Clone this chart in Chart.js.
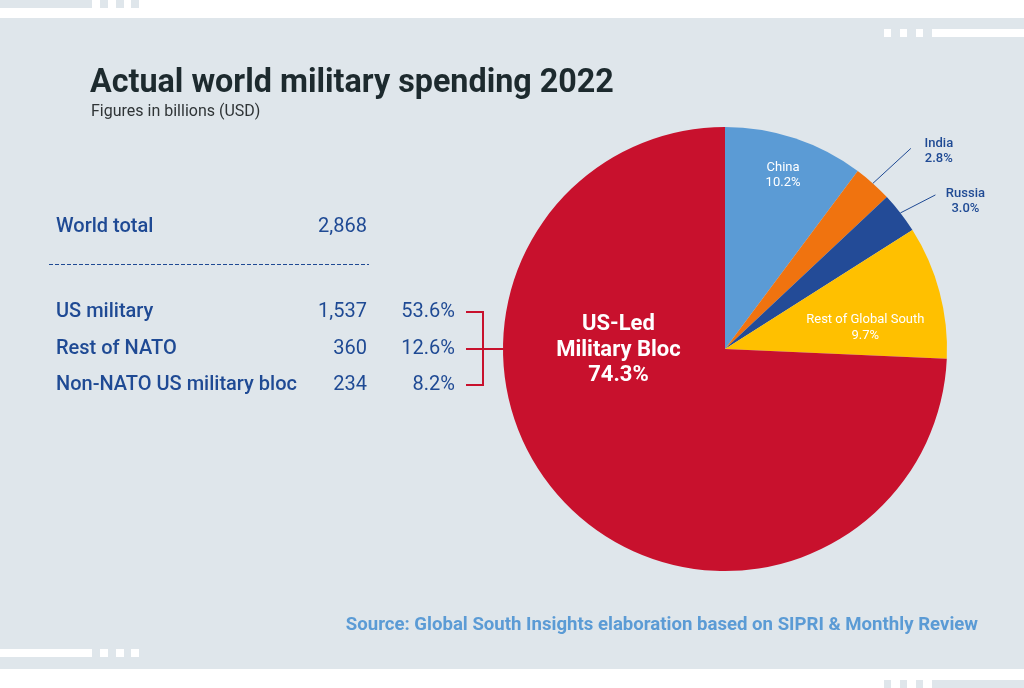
<!DOCTYPE html>
<html>
<head>
<meta charset="utf-8">
<script src="https://cdn.jsdelivr.net/npm/chart.js@4"></script>
<style>
  html, body { margin: 0; padding: 0; background: #fff; }
  #wrap { width: 1024px; height: 688px; }
</style>
</head>
<body>
<div id="wrap"><canvas id="chart" width="1024" height="688"></canvas></div>
<script>
// pie slices, clockwise from 12 o'clock
const sliceLabels = ['China', 'India', 'Russia', 'Rest of Global South', 'US-Led Military Bloc'];
const sliceShares = [10.2, 2.8, 3.0, 9.7, 74.3];

// left-hand table
const worldLabel = 'World total';
const worldTotal = 2868;
const rowLabels  = ['US military', 'Rest of NATO', 'Non-NATO US military bloc'];
const rowValues  = [1537, 360, 234];
const rowShares  = [53.6, 12.6, 8.2];

const TITLE    = 'Actual world military spending 2022';
const SUBTITLE = 'Figures in billions (USD)';
const SOURCE   = 'Source: Global South Insights elaboration based on SIPRI & Monthly Review';

const COLORS = {
    panel:   '#dfe6eb',
    title:   '#1d2a2e',
    sub:     '#2f3436',
    navy:    '#1f4a94',
    source:  '#5b9bd5',
    red:     '#c8112d',
    slices:  ['#5b9bd5', '#f0730f', '#234b97', '#ffc000', '#c8112d'],
};

const FONT = 'Roboto, "Open Sans", sans-serif';

// label placement per slice: angle (deg from top, null = slice middle), radius fraction
const LABEL_POS = [
    { ang: null, r: 0.83, color: '#fff', size: 13, weight: 400, lines: ['China'] },
    { ang: null, r: 1.0,  color: COLORS.navy, size: 13, weight: 500, lines: ['India'],
      lead: [38, -35], text: [66, -32] },
    { ang: null, r: 1.0,  color: COLORS.navy, size: 13, weight: 500, lines: ['Russia'],
      lead: [35, -18], text: [65, -12] },
    { ang: 81,   r: 0.64, color: '#fff', size: 13, weight: 400, lines: ['Rest of Global South'] },
    { ang: 270,  r: 0.48, color: '#fff', size: 22, weight: 700, lines: ['US-Led', 'Military Bloc'] },
];

const fmt = n => n.toLocaleString('en-US');
const pct = n => n.toFixed(1) + '%';

const background = {
    id: 'background',
    beforeDraw(chart) {
        const { ctx } = chart;
        ctx.save();
        ctx.fillStyle = '#fff';
        ctx.fillRect(0, 0, 1024, 688);
        ctx.fillStyle = COLORS.panel;
        ctx.fillRect(0, 18, 1024, 651);
        // corner marks
        const marks = (y, h, color, leftSide) => {
            ctx.fillStyle = color;
            if (leftSide) {
                ctx.fillRect(0, y, 92, h);
                [100, 116, 131].forEach(x => ctx.fillRect(x, y, 8, h));
            } else {
                [884, 900, 916].forEach(x => ctx.fillRect(x, y, 7, h));
                ctx.fillRect(932, y, 92, h);
            }
        };
        marks(0, 8, COLORS.panel, true);
        marks(29, 8, '#fff', false);
        marks(649, 8, '#fff', true);
        marks(680, 8, COLORS.panel, false);
        ctx.restore();
    },
};

const annotations = {
    id: 'annotations',
    afterDraw(chart) {
        const { ctx } = chart;
        ctx.save();
        ctx.textBaseline = 'middle';

        // title block
        ctx.fillStyle = COLORS.title;
        ctx.font = `700 32.3px ${FONT}`;
        ctx.textAlign = 'left';
        ctx.fillText(TITLE, 90, 84);
        ctx.fillStyle = COLORS.sub;
        ctx.font = `400 16px ${FONT}`;
        ctx.fillText(SUBTITLE, 91, 112);

        // table
        ctx.fillStyle = COLORS.navy;
        ctx.font = `500 20px ${FONT}`;
        ctx.fillText(worldLabel, 56, 227);
        ctx.textAlign = 'right';
        ctx.font = `400 20px ${FONT}`;
        ctx.fillText(fmt(worldTotal), 367, 227);

        ctx.strokeStyle = COLORS.navy;
        ctx.lineWidth = 1.2;
        ctx.setLineDash([4, 2]);
        ctx.beginPath();
        ctx.moveTo(49, 264.5);
        ctx.lineTo(369, 264.5);
        ctx.stroke();
        ctx.setLineDash([]);

        const rowY = [312, 349, 385];
        rowLabels.forEach((label, i) => {
            ctx.textAlign = 'left';
            ctx.font = `500 20px ${FONT}`;
            ctx.fillText(label, 56, rowY[i]);
            ctx.textAlign = 'right';
            ctx.font = `400 20px ${FONT}`;
            ctx.fillText(fmt(rowValues[i]), 367, rowY[i]);
            ctx.fillText(pct(rowShares[i]), 455, rowY[i]);
        });

        // bracket towards the red slice
        const meta = chart.getDatasetMeta(0);
        const arc0 = meta.data[0];
        const cx = arc0.x, cy = arc0.y, R = arc0.outerRadius;
        ctx.strokeStyle = COLORS.red;
        ctx.lineWidth = 2;
        ctx.beginPath();
        ctx.moveTo(466, rowY[0]);
        ctx.lineTo(483, rowY[0]);
        ctx.lineTo(483, rowY[2]);
        ctx.lineTo(466, rowY[2]);
        ctx.moveTo(466, rowY[1]);
        ctx.lineTo(cx - R + 1, rowY[1]);
        ctx.stroke();

        // slice labels
        meta.data.forEach((arc, i) => {
            const p = LABEL_POS[i];
            const mid = (arc.startAngle + arc.endAngle) / 2;
            const a = p.ang === null ? mid : (p.ang - 90) * Math.PI / 180;
            const x = cx + Math.cos(a) * R * p.r;
            const y = cy + Math.sin(a) * R * p.r;
            const lines = [...p.lines, pct(sliceShares[i])];
            ctx.fillStyle = p.color;
            ctx.font = `${p.weight} ${p.size}px ${FONT}`;
            ctx.textAlign = 'center';
            const lh = p.size * 1.18;
            if (p.lead) {
                ctx.strokeStyle = COLORS.navy;
                ctx.lineWidth = 1;
                ctx.beginPath();
                ctx.moveTo(x, y);
                ctx.lineTo(x + p.lead[0], y + p.lead[1]);
                ctx.stroke();
                lines.forEach((t, k) => {
                    ctx.fillText(t, x + p.text[0], y + p.text[1] - lh / 2 + k * lh);
                });
            } else {
                const y0 = y - (lines.length - 1) * lh / 2 + 1;
                lines.forEach((t, k) => ctx.fillText(t, x, y0 + k * lh));
            }
        });

        // source
        ctx.fillStyle = COLORS.source;
        ctx.font = `700 18.6px ${FONT}`;
        ctx.textAlign = 'right';
        ctx.fillText(SOURCE, 978, 625);

        ctx.restore();
    },
};

new Chart(document.getElementById('chart').getContext('2d'), {
    type: 'pie',
    data: {
        labels: sliceLabels,
        datasets: [{
            data:            sliceShares,
            backgroundColor: COLORS.slices,
            borderWidth:     0,
            hoverOffset:     0,
        }],
    },
    options: {
        responsive: false,
        devicePixelRatio: 1,
        animation: false,
        layout: { padding: { left: 503, right: 77, top: 127, bottom: 117 } },
        plugins: { legend: { display: false }, tooltip: { enabled: false } },
        events: [],
    },
    plugins: [background, annotations],
});
</script>
</body>
</html>
